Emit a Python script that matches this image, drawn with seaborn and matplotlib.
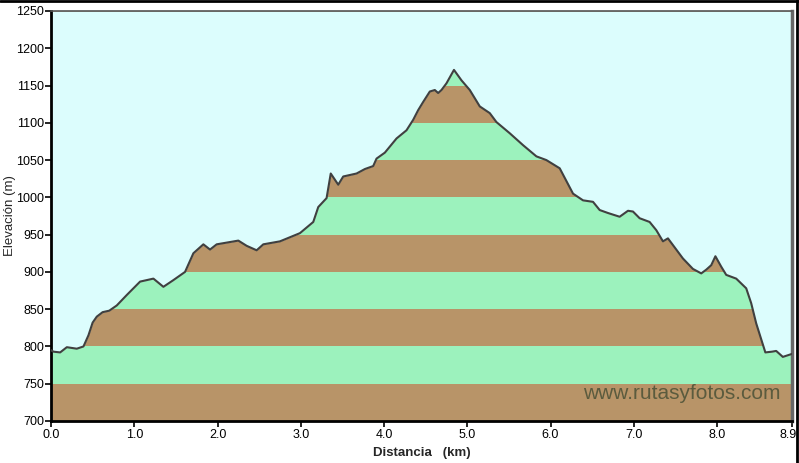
import numpy as np
import pandas as pd
import matplotlib
matplotlib.use("Agg")
import matplotlib.pyplot as plt
import matplotlib.transforms as mtransforms
from matplotlib.lines import Line2D
import seaborn as sns

dist_km = [0.00, 0.03, 0.11, 0.19, 0.31, 0.39, 0.45, 0.50, 0.55, 0.62, 0.70, 0.79, 0.85, 0.91,
           1.07, 1.23, 1.35, 1.47, 1.61, 1.71, 1.83, 1.91, 1.99, 2.25, 2.35, 2.47, 2.55,
           2.75, 2.99, 3.15, 3.21, 3.31, 3.36, 3.45, 3.51, 3.67, 3.77, 3.87, 3.91, 4.01,
           4.15, 4.27, 4.35, 4.41, 4.47, 4.55, 4.61, 4.65, 4.69, 4.75, 4.84, 4.93, 5.03,
           5.15, 5.27, 5.35, 5.51, 5.67, 5.83, 5.95, 6.11, 6.27, 6.39, 6.51, 6.59, 6.69,
           6.83, 6.93, 6.99, 7.07, 7.19, 7.27, 7.35, 7.41, 7.47, 7.59, 7.71, 7.81, 7.87,
           7.93, 7.98, 8.05, 8.11, 8.23, 8.35, 8.41, 8.47, 8.58, 8.66, 8.71, 8.79, 8.90]
elev_m = [795, 793, 792, 799, 797, 800, 815, 832, 840, 846, 848, 855, 862, 869,
          887, 891, 880, 889, 900, 925, 937, 930, 937, 942, 935, 929, 937,
          941, 952, 967, 987, 999, 1032, 1017, 1028, 1032, 1038, 1042, 1052, 1060,
          1079, 1090, 1104, 1117, 1128, 1142, 1144, 1140, 1144, 1153, 1171, 1157, 1144,
          1122, 1113, 1101, 1086, 1070, 1055, 1050, 1039, 1005, 996, 994, 983, 979,
          974, 982, 981, 972, 967, 956, 941, 945, 936, 918, 904, 898, 903,
          909, 921, 907, 896, 891, 878, 858, 831, 792, 793, 794, 786, 790]

x_ticks = [0.0, 1.0, 2.0, 3.0, 4.0, 5.0, 6.0, 7.0, 8.0, 8.9]
x_tick_labels = ["0.0", "1.0", "2.0", "3.0", "4.0", "5.0", "6.0", "7.0", "8.0", "8.9"]
y_ticks = list(range(700, 1251, 50))
band_edges = list(range(700, 1251, 50))

df = pd.DataFrame({"Distancia": dist_km, "Elevacion": elev_m})

sns.set_theme(style="white")
plt.rcParams["font.family"] = ["Liberation Sans", "DejaVu Sans"]

BG = "#dcfdfd"
GREEN = "#9cf2bd"
BROWN = "#b89468"

fig = plt.figure(figsize=(7.99, 4.63), dpi=100)
ax = fig.add_axes([51/799, 42/463, 741/799, 410/463])
ax.set_facecolor(BG)

# alternating bands
for i in range(len(band_edges) - 1):
    ax.axhspan(band_edges[i], band_edges[i+1], color=BROWN if i % 2 == 0 else GREEN,
               lw=0, zorder=0.5)
# cover area above the profile with background colour
ax.fill_between(df["Distancia"], df["Elevacion"], 1250, color=BG, lw=0, zorder=0.6)

sns.lineplot(data=df, x="Distancia", y="Elevacion", ax=ax, color="#404040", lw=1.5, zorder=3)

ax.set_xlim(0, 8.9)
ax.set_ylim(700, 1250)
ax.set_xticks(x_ticks)
ax.set_xticklabels(x_tick_labels)
ax.set_yticks(y_ticks)
ax.tick_params(axis="both", direction="out", length=4, width=1.2, color="black",
               labelsize=9, labelcolor="black", pad=2,
               bottom=True, left=True)
ax.tick_params(axis="y", pad=1)
ax.set_xlabel("Distancia   (km)", fontsize=9.5, fontweight="bold", labelpad=4)
ax.set_ylabel("Elevación (m)", fontsize=9.5)
ax.yaxis.set_label_coords(-0.047, 0.5)

# nudge the last x tick label left so it stays inside the figure
last = ax.get_xticklabels()[-1]
last.set_transform(last.get_transform() +
                   mtransforms.ScaledTranslation(-4/100, 0, fig.dpi_scale_trans))

for s in ["left", "bottom"]:
    ax.spines[s].set_color("black")
    ax.spines[s].set_linewidth(2)
ax.spines["top"].set_color("#555555")
ax.spines["top"].set_linewidth(1.2)
ax.spines["right"].set_color("#666666")
ax.spines["right"].set_linewidth(2.5)

ax.text(0.985, 0.045, "www.rutasyfotos.com", transform=ax.transAxes, ha="right",
        va="bottom", fontsize=15, color="#5b5b3e", zorder=4)

# outer frame lines (top and right)
fig.add_artist(Line2D([0, 1], [0.998, 0.998], transform=fig.transFigure, color="black", lw=2))
fig.add_artist(Line2D([0.9975, 0.9975], [0, 1], transform=fig.transFigure, color="black", lw=2))

fig.savefig("out.png", dpi=100)
